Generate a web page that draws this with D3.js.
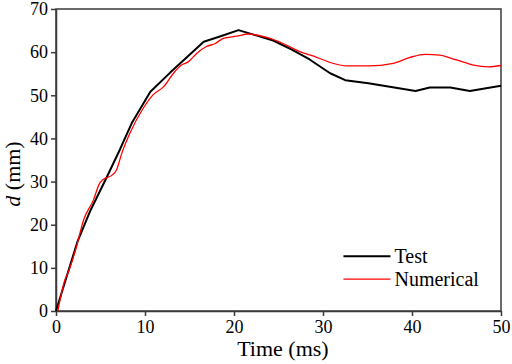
<!DOCTYPE html>
<html lang="en">
<head>
  <meta charset="UTF-8">
  <title>Displacement vs Time</title>
  <script src="https://d3js.org/d3.v7.min.js"></script>
  <style>
    body { margin: 0; background: #fff; }
    svg text { font-family: "Liberation Serif", "Times New Roman", serif; fill: #000; }
  </style>
</head>
<body>
  <svg width="512" height="364"></svg>

  <script>
    // Test (black) readings: time (ms), d (mm)
    const testTime = [0, 1.2, 2.4, 3.8, 5.7, 7.2, 8.5, 10.6, 12.8, 14.7, 16.6, 18.5, 20.5, 22.3, 24.4, 26.5, 28.5, 30.8, 32.5, 35.1, 37.5, 40.4, 42.0, 44.3, 46.5, 50];
    const testD    = [0, 8.0, 16.0, 23.0, 31.0, 37.5, 43.5, 50.8, 55.2, 58.8, 62.4, 63.7, 65.1, 64.0, 62.7, 60.6, 58.3, 55.1, 53.5, 52.8, 52.0, 51.0, 51.8, 51.8, 51.0, 52.2];

    // Numerical (red) readings
    const numTime = [0.2, 1.0, 1.4, 2.3, 3.1, 4.2, 4.9, 5.3, 6.3, 6.8, 7.4, 8.3, 9.8, 10.9, 12.1, 13.2, 14.1, 14.9, 15.8, 16.9, 17.9, 18.8, 20.3, 21.6, 23.7, 25.5, 27.4, 29.3, 30.8, 32.7, 35.1, 37.9, 39.8, 41.5, 43.1, 45.0, 46.9, 48.6, 50];
    const numD    = [0, 7.2, 9.1, 14.9, 21.1, 25.7, 29.6, 30.5, 31.5, 32.7, 36.6, 41.2, 47.0, 50.1, 52.0, 55.1, 57.0, 57.8, 59.7, 61.3, 62.0, 63.2, 63.7, 64.2, 63.4, 62.0, 60.1, 58.8, 57.6, 56.8, 56.8, 57.4, 58.8, 59.5, 59.3, 58.2, 57.0, 56.6, 56.9];

    const xTicks = [0, 10, 20, 30, 40, 50];
    const yTicks = [0, 10, 20, 30, 40, 50, 60, 70];
    const seriesNames = ["Test", "Numerical"];
    const seriesColors = ["#000000", "#ff0000"];

    const margin = { top: 9, right: 11, bottom: 53, left: 56 };
    const width = 512 - margin.left - margin.right;
    const height = 364 - margin.top - margin.bottom;

    const svg = d3.select("svg")
      .append("g")
      .attr("transform", `translate(${margin.left},${margin.top})`);

    const x = d3.scaleLinear().domain([0, 50]).range([0, width]);
    const y = d3.scaleLinear().domain([0, 70]).range([height, 0]);

    const axisColor = "#3a3a3a";
    const serif = "'Liberation Serif', 'Times New Roman', serif";

    // frame (top and right)
    svg.append("rect")
      .attr("x", 0).attr("y", 0)
      .attr("width", width).attr("height", height)
      .attr("fill", "none")
      .attr("stroke", axisColor)
      .attr("stroke-width", 1.5);

    const gX = svg.append("g")
      .attr("transform", `translate(0,${height})`)
      .call(d3.axisBottom(x).tickValues(xTicks).tickSize(5).tickPadding(4).tickSizeOuter(0));
    const gY = svg.append("g")
      .call(d3.axisLeft(y).tickValues(yTicks).tickSize(5).tickPadding(3).tickSizeOuter(0));

    [gX, gY].forEach(g => {
      g.attr("font-family", serif);
      g.select(".domain").attr("stroke", axisColor).attr("stroke-width", 1.5);
      g.selectAll(".tick line").attr("stroke", axisColor).attr("stroke-width", 1.5);
      g.selectAll(".tick text")
        .style("font-family", serif)
        .attr("font-size", 18)
        .attr("fill", "#000");
    });

    // axis titles
    svg.append("text")
      .attr("text-anchor", "middle")
      .attr("x", x(25.5))
      .attr("y", height + 45)
      .attr("font-size", 22)
      .text("Time (ms)");

    const yTitle = svg.append("text")
      .attr("text-anchor", "middle")
      .attr("transform", `translate(-36,${height / 2 + 14}) rotate(-90)`)
      .attr("font-size", 22);
    yTitle.append("tspan").attr("font-style", "italic").text("d");
    yTitle.append("tspan").text(" (mm)");

    const line = d3.line()
      .x(d => x(d[0]))
      .y(d => y(d[1]));

    const testData = testTime.map((t, i) => [t, testD[i]]);
    const numData = numTime.map((t, i) => [t, numD[i]]);

    svg.append("path")
      .datum(testData)
      .attr("fill", "none")
      .attr("stroke", seriesColors[0])
      .attr("stroke-width", 2)
      .attr("stroke-linejoin", "round")
      .attr("d", line);

    svg.append("path")
      .datum(numData)
      .attr("fill", "none")
      .attr("stroke", seriesColors[1])
      .attr("stroke-width", 1.3)
      .attr("stroke-linejoin", "round")
      .attr("d", line.curve(d3.curveMonotoneX));

    // legend
    const legend = svg.append("g").attr("transform", `translate(${x(32.3)},${y(12.7)})`);
    seriesNames.forEach((name, i) => {
      const row = legend.append("g").attr("transform", `translate(0,${i * 23})`);
      row.append("line")
        .attr("x1", 0).attr("x2", 47)
        .attr("stroke", seriesColors[i])
        .attr("stroke-width", i === 0 ? 2 : 1.3);
      row.append("text")
        .attr("x", 51)
        .attr("y", 7)
        .attr("font-size", 20)
        .text(name);
    });
  </script>
</body>
</html>
